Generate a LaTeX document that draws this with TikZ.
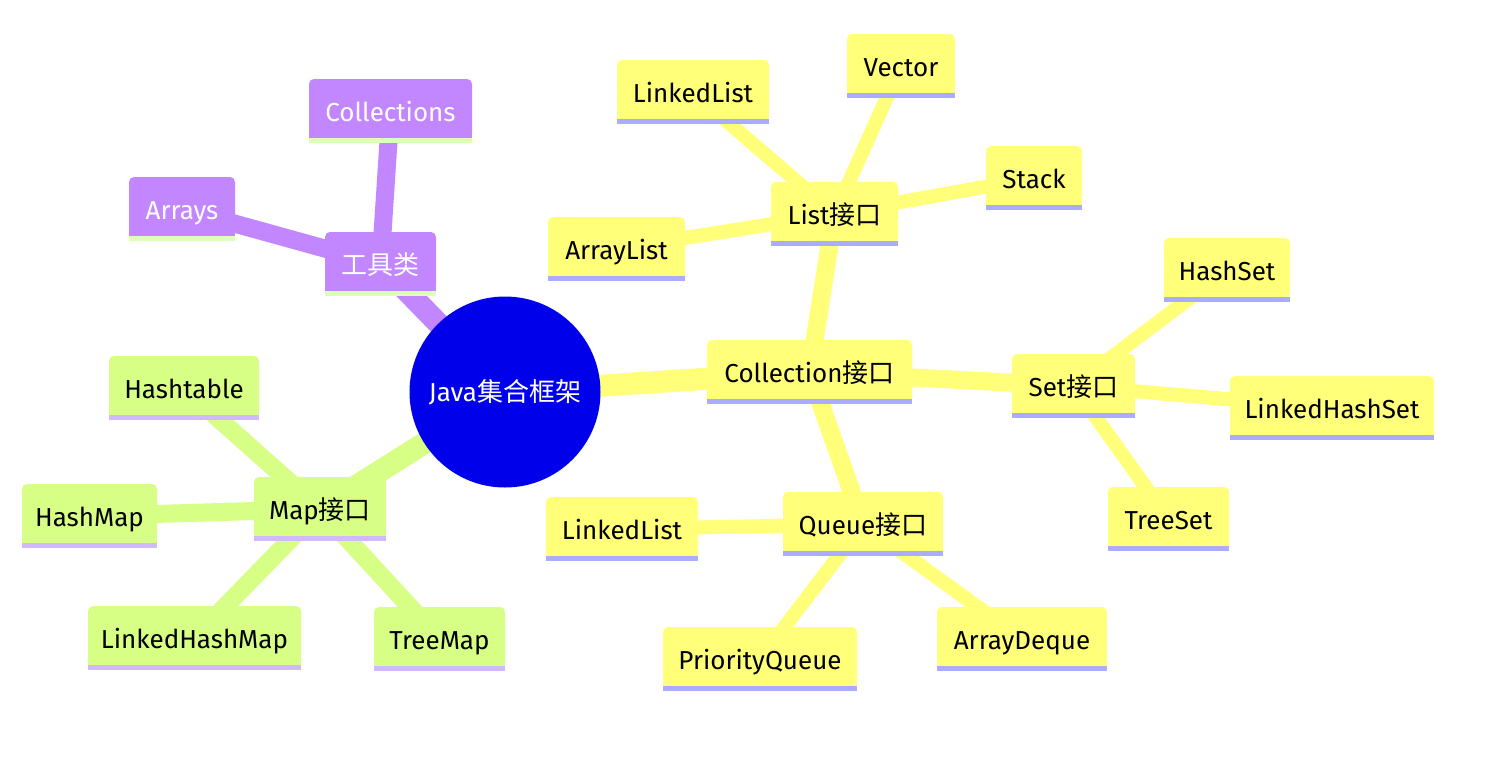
\documentclass[tikz,border=0pt]{standalone}
\usepackage{fontspec}
\setmainfont{Fira Sans}
\newfontfamily\cjk{Noto Sans CJK SC}
\usetikzlibrary{backgrounds}
\definecolor{yF}{HTML}{FFFF79}
\definecolor{yB}{HTML}{ABABFF}
\definecolor{gF}{HTML}{D7FF86}
\definecolor{gB}{HTML}{D0B9FF}
\definecolor{pF}{HTML}{C286FF}
\definecolor{pB}{HTML}{DCFFB9}
\definecolor{rootF}{HTML}{0000EA}
\tikzset{
  lbl/.style={inner sep=0pt, anchor=base, font=\fontsize{26}{31}\selectfont},
  eA/.style={line width=22pt},
  eB/.style={line width=18pt},
  eC/.style={line width=14pt},
}
% name, x1, y1, x2, y2, fill, bottom border, text colour, text
\newcommand\mmbox[9]{%
  \fill[#6, rounded corners=5pt] (#2,#3) rectangle (#4,#5-5);
  \fill[#6] (#2,#5-12) rectangle (#4,#5-5);
  \fill[#7] (#2,#5-5) rectangle (#4,#5);
  \coordinate (#1) at ({(#2+#4)/2},{(#3+#5)/2});
  \node[lbl, text=#8] (#1t) at ({(#2+#4)/2},{(#3+#5)/2+10}) {#9};
}
\begin{document}
\begin{tikzpicture}[x=1pt, y=-1pt]
\useasboundingbox (0,0) rectangle (1492,780);
% root
\node[circle, fill=rootF, minimum size=191pt, inner sep=0pt, text=white,
      font=\fontsize{26}{31}\selectfont] (root) at (505,392) {Java{\cjk 集合框架}};
% Collection branch
\mmbox{coll}{707}{340}{912}{404}{yF}{yB}{black}{Collection{\cjk 接口}}
\mmbox{list}{771}{182}{898}{246}{yF}{yB}{black}{List{\cjk 接口}}
\mmbox{llA}{617}{60}{769}{124}{yF}{yB}{black}{LinkedList}
\mmbox{vec}{847}{34}{955}{98}{yF}{yB}{black}{Vector}
\mmbox{stack}{986}{146}{1082}{210}{yF}{yB}{black}{Stack}
\mmbox{al}{548}{217}{685}{281}{yF}{yB}{black}{ArrayList}
\mmbox{set}{1012}{354}{1135}{418}{yF}{yB}{black}{Set{\cjk 接口}}
\mmbox{hs}{1164}{238}{1290}{302}{yF}{yB}{black}{HashSet}
\mmbox{lhs}{1230}{376}{1434}{440}{yF}{yB}{black}{LinkedHashSet}
\mmbox{ts}{1108}{487}{1229}{551}{yF}{yB}{black}{TreeSet}
\mmbox{queue}{783}{492}{943}{556}{yF}{yB}{black}{Queue{\cjk 接口}}
\mmbox{llB}{546}{497}{698}{561}{yF}{yB}{black}{LinkedList}
\mmbox{pq}{663}{627}{857}{691}{yF}{yB}{black}{PriorityQueue}
\mmbox{ad}{937}{607}{1107}{671}{yF}{yB}{black}{ArrayDeque}
% Map branch
\mmbox{map}{254}{477}{386}{541}{gF}{gB}{black}{Map{\cjk 接口}}
\mmbox{ht}{109}{356}{259}{420}{gF}{gB}{black}{Hashtable}
\mmbox{hm}{22}{484}{157}{548}{gF}{gB}{black}{HashMap}
\mmbox{lhm}{88}{606}{301}{670}{gF}{gB}{black}{LinkedHashMap}
\mmbox{tm}{374}{607}{505}{671}{gF}{gB}{black}{TreeMap}
% tool branch
\mmbox{tool}{325}{232}{436}{296}{pF}{pB}{white}{{\cjk 工具类}}
\mmbox{colls}{309}{79}{472}{143}{pF}{pB}{white}{Collections}
\mmbox{arrs}{129}{177}{235}{241}{pF}{pB}{white}{Arrays}
\begin{scope}[on background layer]
\fill[white] (0,0) rectangle (1492,780);
% depth 1
\draw[eA, yF] (root.center) -- (coll);
\draw[eA, gF] (root.center) -- (map);
\draw[eA, pF] (root.center) -- (tool);
% depth 2
\draw[eB, yF] (coll) -- (list);
\draw[eB, yF] (coll) -- (set);
\draw[eB, yF] (coll) -- (queue);
\draw[eB, gF] (map) -- (ht);
\draw[eB, gF] (map) -- (hm);
\draw[eB, gF] (map) -- (lhm);
\draw[eB, gF] (map) -- (tm);
\draw[eB, pF] (tool) -- (colls);
\draw[eB, pF] (tool) -- (arrs);
% depth 3
\draw[eC, yF] (list) -- (llA);
\draw[eC, yF] (list) -- (vec);
\draw[eC, yF] (list) -- (stack);
\draw[eC, yF] (list) -- (al);
\draw[eC, yF] (set) -- (hs);
\draw[eC, yF] (set) -- (lhs);
\draw[eC, yF] (set) -- (ts);
\draw[eC, yF] (queue) -- (llB);
\draw[eC, yF] (queue) -- (pq);
\draw[eC, yF] (queue) -- (ad);
\end{scope}
\end{tikzpicture}
\end{document}
